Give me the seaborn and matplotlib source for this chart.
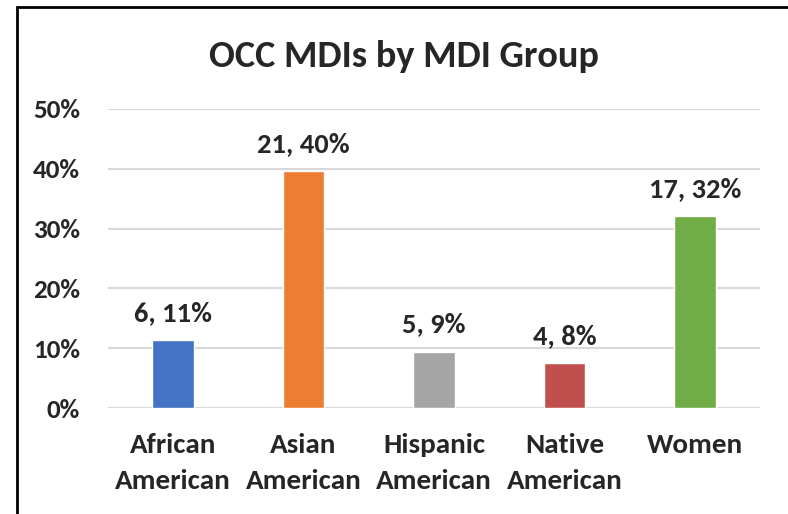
#!/usr/bin/env python3
# coding=utf-8
import matplotlib
matplotlib.use('Agg')
import matplotlib.pyplot as plt
import matplotlib.ticker as ticker
import matplotlib.patches as patches
import pandas as pd
import seaborn as sns

# data
groups = ['African\nAmerican', 'Asian\nAmerican', 'Hispanic\nAmerican', 'Native\nAmerican', 'Women']
counts = [6, 21, 5, 4, 17]
shares = [0.113, 0.396, 0.094, 0.075, 0.321]
share_labels = ['11%', '40%', '9%', '8%', '32%']
colors = ['#4472C4', '#ED7D31', '#A5A5A5', '#C0504D', '#70AD47']
yticks = [0.0, 0.1, 0.2, 0.3, 0.4, 0.5]


def main():
    df = pd.DataFrame({'group': groups, 'share': shares, 'count': counts})

    sns.set_style('white')
    plt.rcParams['font.family'] = ['Carlito', 'Liberation Sans Narrow', 'DejaVu Sans']
    plt.rcParams['font.weight'] = 'bold'

    fig = plt.figure(figsize=(7.88, 5.14), dpi=100)
    ax = fig.add_axes([108 / 788, 1 - 408 / 514, (760 - 108) / 788, (408 - 109) / 514])

    sns.barplot(x='group', y='share', hue='group', data=df, palette=colors,
                width=0.32, legend=False, ax=ax, saturation=1, zorder=3)

    ax.set_ylim(0, 0.5)
    ax.set_yticks(yticks)
    ax.yaxis.set_major_formatter(ticker.PercentFormatter(1.0, decimals=0))
    ax.grid(axis='y', color='#D9D9D9', linewidth=1.5, zorder=0)
    ax.set_xlabel('')
    ax.set_ylabel('')
    for s in ax.spines.values():
        s.set_visible(False)
    ax.tick_params(axis='y', length=0, labelsize=19.5, pad=20)
    ax.tick_params(axis='x', length=0, labelsize=21, pad=18)
    for lbl in ax.get_yticklabels():
        lbl.set_fontweight('bold')
    for lbl in ax.get_xticklabels():
        lbl.set_fontweight('bold')
        lbl.set_linespacing(1.6)

    for bar, c, p in zip(ax.patches, counts, share_labels):
        ax.annotate('{}, {}'.format(c, p),
                    (bar.get_x() + bar.get_width() / 2, bar.get_height()),
                    xytext=(0, 11), textcoords='offset points',
                    ha='center', va='bottom', fontsize=20.5, fontweight='bold')

    fig.text(404 / 788, 1 - 56 / 514, 'OCC MDIs by MDI Group', ha='center', va='center',
             fontsize=27.5, fontweight='bold')

    # chart border (left and top edge visible in the crop)
    fig.patches.append(patches.Rectangle((17 / 788, -0.1), 1.2, 1 - 7 / 514 + 0.1,
                                         transform=fig.transFigure, fill=False,
                                         edgecolor='black', linewidth=2))

    plt.savefig('out.png', dpi=100)
    plt.close('all')


if __name__ == '__main__':
    main()
